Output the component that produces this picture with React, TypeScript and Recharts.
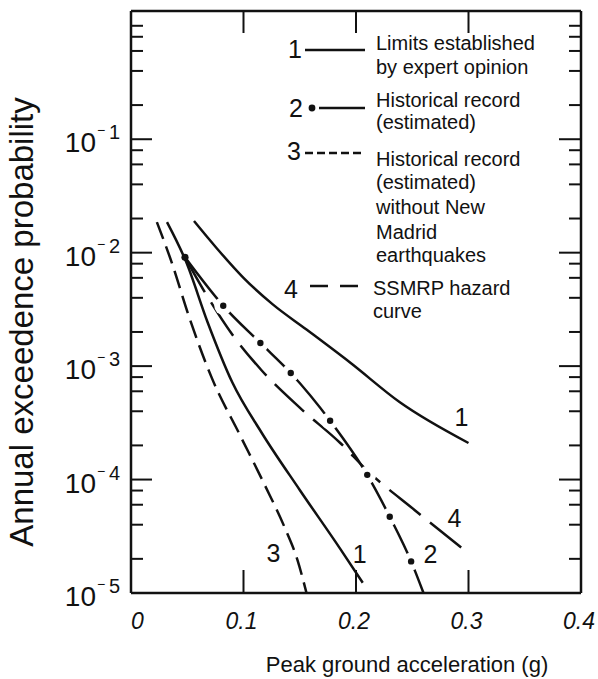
import React from "react";
import { Line, LineChart, XAxis, YAxis } from "recharts";

const W = 598;
const H = 679;
const FONT = "'Liberation Sans', Arial, Helvetica, sans-serif";
const INK = "#111";

// Peak ground acceleration (g) against annual exceedence probability, one pair per curve
const expertUpperPga = [0.056, 0.076, 0.1, 0.126, 0.156, 0.195, 0.239, 0.3];
const expertUpperProb = [1.9e-2, 1.1e-2, 6.0e-3, 3.5e-3, 2.1e-3, 1.07e-3, 4.8e-4, 2.1e-4];

const expertLowerPga = [0.032, 0.049, 0.068, 0.09, 0.116, 0.15, 0.186, 0.206];
const expertLowerProb = [1.86e-2, 8.3e-3, 2.45e-3, 7.2e-4, 2.6e-4, 8.1e-5, 2.45e-5, 1.23e-5];

const historicalPga = [0.048, 0.082, 0.115, 0.142, 0.177, 0.21, 0.23, 0.249, 0.26];
const historicalProb = [9.1e-3, 3.4e-3, 1.6e-3, 8.7e-4, 3.3e-4, 1.1e-4, 4.7e-5, 1.9e-5, 1.0e-5];

const noMadridPga = [0.023, 0.036, 0.052, 0.072, 0.097, 0.119, 0.137, 0.148, 0.156];
const noMadridProb = [1.86e-2, 8.3e-3, 2.65e-3, 7.8e-4, 2.45e-4, 8.9e-5, 3.7e-5, 1.95e-5, 1.0e-5];

const ssmrpPga = [0.048, 0.068, 0.09, 0.116, 0.15, 0.186, 0.21, 0.252, 0.3];
const ssmrpProb = [9.1e-3, 4.1e-3, 1.9e-3, 9.2e-4, 4.3e-4, 2.1e-4, 1.2e-4, 5.4e-5, 2.24e-5];

const xTicks = [0, 0.1, 0.2, 0.3, 0.4];
const xTickLabels = ["0", "0.1", "0.2", "0.3", "0.4"];
const decadeExponents = [-5, -4, -3, -2, -1, 0];
const minorSteps = [2, 4, 6, 8];
const yDomain = [1e-5, 1.35];

const yTicks: number[] = [];
for (const d of decadeExponents) {
  yTicks.push(Math.pow(10, d));
  if (d < 0) for (const m of minorSteps) yTicks.push(m * Math.pow(10, d));
}

const toRows = (xs: number[], ps: number[]) => xs.map((x, i) => ({ x, p: ps[i] }));

const expertUpper = toRows(expertUpperPga, expertUpperProb);
const expertLower = toRows(expertLowerPga, expertLowerProb);
const historical = toRows(historicalPga, historicalProb);
const noMadrid = toRows(noMadridPga, noMadridProb);
const ssmrp = toRows(ssmrpPga, ssmrpProb);

function decadeOf(v: number) {
  const lg = Math.log10(v);
  const exp = Math.round(lg);
  return { exp, major: Math.abs(lg - exp) < 1e-6 };
}

function LeftTick(props: any) {
  const { x, y, payload } = props;
  const { exp, major } = decadeOf(payload.value);
  const len = major && exp < 0 && exp > -5 ? 21 : 12;
  return (
    <g>
      {exp > -5 || !major ? (
        <line x1={x} x2={x + len} y1={y} y2={y} stroke={INK} strokeWidth={2} />
      ) : null}
      {major && exp < 0 ? (
        <g fontFamily={FONT} fill={INK}>
          <text x={x - 35} y={y + 13} fontSize={28} textAnchor="end">10</text>
          <text x={x - 34} y={y - 4} fontSize={14}>−</text>
          <text x={x - 22} y={y} fontSize={20}>{-exp}</text>
        </g>
      ) : null}
    </g>
  );
}

function RightTick(props: any) {
  const { x, y, payload } = props;
  const { exp, major } = decadeOf(payload.value);
  if (major && exp === -5) return <g />;
  const len = major && exp < 0 ? 22 : 12;
  return <line x1={x} x2={x - len} y1={y} y2={y} stroke={INK} strokeWidth={2} />;
}

function BottomTick(props: any) {
  const { x, y, payload, index } = props;
  const v = payload.value;
  const inner = v > 0 && v < 0.4;
  return (
    <g>
      {inner ? <line x1={x} x2={x} y1={y} y2={y - 23} stroke={INK} strokeWidth={2} /> : null}
      <text
        x={index === 0 ? x : x - 2}
        y={y + 36}
        textAnchor={index === 0 ? "start" : "middle"}
        fontSize={23}
        fontStyle="italic"
        fontFamily={FONT}
        fill={INK}
      >
        {xTickLabels[index]}
      </text>
    </g>
  );
}

function TopTick(props: any) {
  const { x, y, payload } = props;
  const v = payload.value;
  if (!(v > 0 && v < 0.4)) return <g />;
  return <line x1={x} x2={x} y1={y} y2={y + 22} stroke={INK} strokeWidth={2} />;
}

// dash-dot look: a solid stroke broken by white rings around each dot
function historicalDot(props: any) {
  const { cx, cy, index } = props;
  const key = `hd-${index}`;
  if (index === historicalPga.length - 1) return <g key={key} />;
  if (index === 0) return <circle key={key} cx={cx} cy={cy} r={3.6} fill={INK} />;
  return (
    <g key={key}>
      <circle cx={cx} cy={cy} r={9} fill="#fff" />
      <circle cx={cx} cy={cy} r={3.2} fill={INK} />
    </g>
  );
}

const endLabel = (text: string, count: number, dx: number, dy: number) => (props: any) => {
  const { x, y, index } = props;
  if (index !== count - 1) return null;
  return (
    <text x={x + dx} y={y + dy} textAnchor="middle" fontSize={25} fontFamily={FONT} fill={INK}>
      {text}
    </text>
  );
};

const axisLine = { stroke: INK, strokeWidth: 2.5 };
const curve = { stroke: INK, strokeWidth: 2.5, isAnimationActive: false, type: "monotone" as const };

function Legend() {
  const t = { fontFamily: FONT, fill: INK };
  const lx = 376;
  const fs = 20;
  return (
    <g {...t}>
      <text x={295} y={58} fontSize={25} textAnchor="middle">1</text>
      <line x1={305} x2={365} y1={50} y2={50} stroke={INK} strokeWidth={2.4} />
      <text x={lx} y={50} fontSize={fs}>Limits established</text>
      <text x={lx} y={74} fontSize={fs}>by expert opinion</text>

      <text x={296} y={117} fontSize={25} textAnchor="middle">2</text>
      <circle cx={312} cy={108} r={3.4} fill={INK} />
      <line x1={319} x2={365} y1={108} y2={108} stroke={INK} strokeWidth={2.4} />
      <text x={lx} y={107} fontSize={fs}>Historical record</text>
      <text x={lx} y={129} fontSize={fs}>(estimated)</text>

      <text x={294} y={160} fontSize={25} textAnchor="middle">3</text>
      <line x1={305} x2={365} y1={153} y2={153} stroke={INK} strokeWidth={2.4} strokeDasharray="8 4" />
      <text x={lx} y={166} fontSize={fs}>Historical record</text>
      <text x={lx} y={189} fontSize={fs}>(estimated)</text>
      <text x={lx} y={214} fontSize={fs}>without New</text>
      <text x={lx} y={239} fontSize={fs}>Madrid</text>
      <text x={lx} y={262} fontSize={fs}>earthquakes</text>

      <text x={291} y={298} fontSize={25} textAnchor="middle">4</text>
      <line x1={310} x2={362} y1={286} y2={286} stroke={INK} strokeWidth={2.4} strokeDasharray="18 12" />
      <text x={373} y={295} fontSize={fs}>SSMRP hazard</text>
      <text x={373} y={318} fontSize={fs}>curve</text>
    </g>
  );
}

export default function App() {
  return (
    <div style={{ position: "relative", width: W, height: H, background: "#fff" }}>
      <style>{"body{margin:0}"}</style>
      <LineChart width={W} height={H} margin={{ top: 0, right: 0, bottom: 0, left: 0 }}>
        <XAxis
          xAxisId="bottom"
          type="number"
          dataKey="x"
          domain={[0, 0.4]}
          allowDataOverflow
          ticks={xTicks}
          interval={0}
          height={86}
          tickSize={0}
          tickMargin={0}
          tickLine={false}
          axisLine={axisLine}
          tick={BottomTick}
        />
        <XAxis
          xAxisId="top"
          orientation="top"
          type="number"
          dataKey="x"
          domain={[0, 0.4]}
          allowDataOverflow
          ticks={xTicks}
          interval={0}
          height={11}
          tickSize={0}
          tickMargin={0}
          tickLine={false}
          axisLine={axisLine}
          tick={TopTick}
        />
        <YAxis
          yAxisId="left"
          type="number"
          scale="log"
          domain={yDomain}
          allowDataOverflow
          ticks={yTicks}
          interval={0}
          width={131}
          tickSize={0}
          tickMargin={0}
          tickLine={false}
          axisLine={axisLine}
          tick={LeftTick}
        />
        <YAxis
          yAxisId="right"
          orientation="right"
          type="number"
          scale="log"
          domain={yDomain}
          allowDataOverflow
          ticks={yTicks}
          interval={0}
          width={17}
          tickSize={0}
          tickMargin={0}
          tickLine={false}
          axisLine={axisLine}
          tick={RightTick}
        />
        <Line
          {...curve}
          xAxisId="bottom"
          yAxisId="left"
          data={historical}
          dataKey="p"
          dot={historicalDot}
          label={endLabel("2", historical.length, 7, -30)}
        />
        <Line
          {...curve}
          xAxisId="bottom"
          yAxisId="left"
          data={ssmrp}
          dataKey="p"
          dot={false}
          strokeDasharray="40 12"
          label={endLabel("4", ssmrp.length, -14, -26)}
        />
        <Line
          {...curve}
          xAxisId="bottom"
          yAxisId="left"
          data={expertUpper}
          dataKey="p"
          dot={false}
          label={endLabel("1", expertUpper.length, -7, -17)}
        />
        <Line
          {...curve}
          xAxisId="bottom"
          yAxisId="left"
          data={expertLower}
          dataKey="p"
          dot={false}
          label={endLabel("1", expertLower.length, -3, -20)}
        />
        <Line
          {...curve}
          xAxisId="bottom"
          yAxisId="left"
          data={noMadrid}
          dataKey="p"
          dot={false}
          strokeDasharray="18 8"
          label={endLabel("3", noMadrid.length, -33, -31)}
        />
      </LineChart>
      <svg
        width={W}
        height={H}
        style={{ position: "absolute", left: 0, top: 0, pointerEvents: "none" }}
      >
        <Legend />
        <text
          x={33}
          y={322}
          transform="rotate(-90 33 322)"
          textAnchor="middle"
          fontSize={33}
          fontFamily={FONT}
          fill={INK}
        >
          Annual exceedence probability
        </text>
        <text x={407} y={672} textAnchor="middle" fontSize={22} fontFamily={FONT} fill={INK}>
          Peak ground acceleration (g)
        </text>
      </svg>
    </div>
  );
}
